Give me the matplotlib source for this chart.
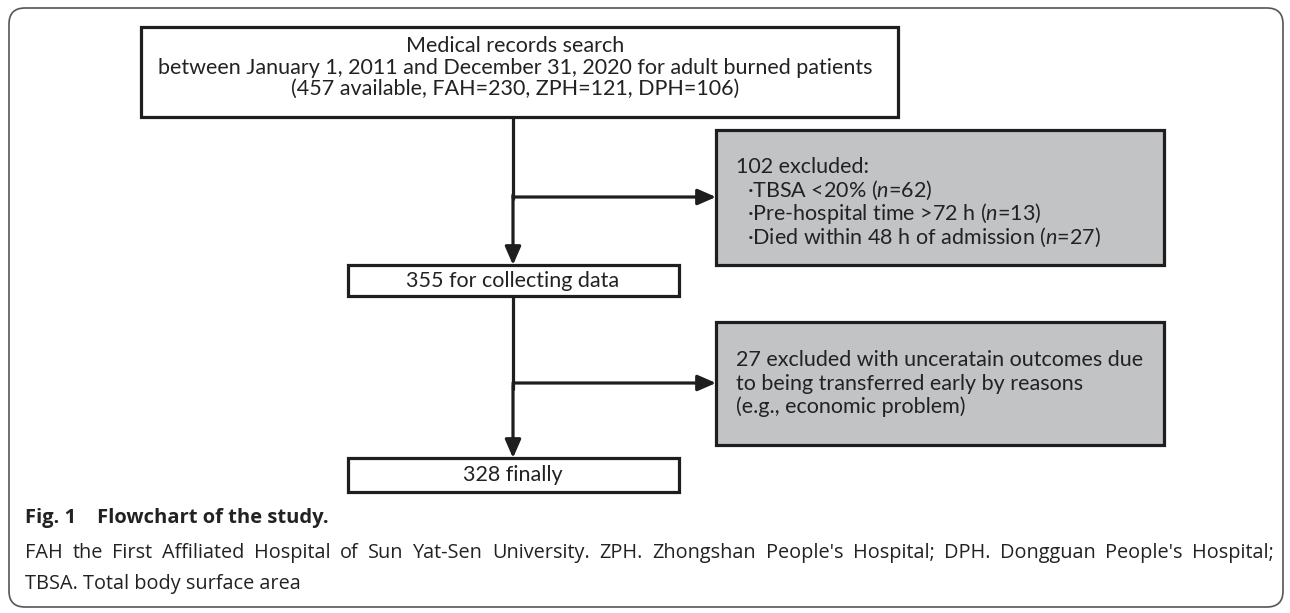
import matplotlib.pyplot as plt
from matplotlib.patches import FancyBboxPatch, Rectangle

plt.rcParams['font.family'] = ['Lato', 'DejaVu Sans']
plt.rcParams['mathtext.fontset'] = 'custom'
plt.rcParams['mathtext.rm'] = 'Lato'
plt.rcParams['mathtext.it'] = 'Lato:italic'

# flowchart text
top_lines = ["Medical records search",
             "between January 1, 2011 and December 31, 2020 for adult burned patients",
             "(457 available, FAH=230, ZPH=121, DPH=106)"]
excl1_lines = ["102 excluded:",
               "  \u00b7TBSA <20% ($\\it{n}$=62)",
               "  \u00b7Pre-hospital time >72 h ($\\it{n}$=13)",
               "  \u00b7Died within 48 h of admission ($\\it{n}$=27)"]
mid_label = "355 for collecting data"
excl2_lines = ["27 excluded with unceratain outcomes due",
               "to being transferred early by reasons",
               "(e.g., economic problem)"]
final_label = "328 finally"

caption_title = "Fig. 1    Flowchart of the study."
caption_lines = ["FAH the First Affiliated Hospital of Sun Yat-Sen University. ZPH. Zhongshan People's Hospital; "
                 "DPH. Dongguan People's Hospital;",
                 "TBSA. Total body surface area"]

W, H = 1290, 613
fig = plt.figure(figsize=(W / 100, H / 100), dpi=100)
ax = fig.add_axes([0, 0, 1, 1])
ax.set_xlim(0, W)
ax.set_ylim(H, 0)
ax.axis('off')

edge = '#1e1e1e'
gray = '#c2c3c5'
txt = '#222222'
lw = 2.3

# outer rounded frame
frame = FancyBboxPatch((9, 8), 1274, 599, boxstyle='round,pad=0,rounding_size=16',
                       fc='none', ec='#555555', lw=1.2)
ax.add_patch(frame)


def box(x0, y0, x1, y1, fill='white'):
    ax.add_patch(Rectangle((x0, y0), x1 - x0, y1 - y0, fc=fill, ec=edge, lw=lw, zorder=2))


def arrow(x0, y0, x1, y1):
    ax.annotate('', xy=(x1, y1), xytext=(x0, y0), zorder=3,
                arrowprops=dict(arrowstyle='-|>,head_length=0.55,head_width=0.24',
                                color=edge, lw=lw, mutation_scale=20,
                                shrinkA=0, shrinkB=0))


fs = 15.5
cx = 513

# boxes
box(141, 27, 898, 117)
box(716, 130, 1164, 265, gray)
box(348, 265, 679, 296)
box(716, 322, 1164, 445, gray)
box(348, 458, 679, 492)

# connectors
ax.plot([cx, cx], [117, 200], color=edge, lw=lw, solid_capstyle='butt')
arrow(cx, 195, cx, 265)
arrow(cx, 197, 716, 197)
ax.plot([cx, cx], [296, 390], color=edge, lw=lw, solid_capstyle='butt')
arrow(cx, 385, cx, 458)
arrow(cx, 383, 716, 383)

# text in boxes
for i, s in enumerate(top_lines):
    ax.text(515, 46 + i * 21.5, s, ha='center', va='center', fontsize=fs, color=txt)
for i, s in enumerate(excl1_lines):
    ax.text(736, 167 + i * 23.3, s, ha='left', va='center', fontsize=fs, color=txt)
ax.text(cx, 281, mid_label, ha='center', va='center', fontsize=fs, color=txt)
for i, s in enumerate(excl2_lines):
    ax.text(736, 360 + i * 23.5, s, ha='left', va='center', fontsize=fs, color=txt)
ax.text(cx, 475, final_label, ha='center', va='center', fontsize=fs, color=txt)

# caption
cap_font = ['Open Sans', 'DejaVu Sans']
ax.text(25, 518, caption_title, ha='left', va='center', fontsize=14.5,
        fontweight='bold', family=cap_font, color=txt)

# justified first caption line
renderer = fig.canvas.get_renderer()
words = caption_lines[0].split()
left, right = 25, 1274
items = []
total = 0
for w in words:
    t = ax.text(0, 553, w, ha='left', va='center', fontsize=14.3, family=cap_font, color=txt)
    wd = t.get_window_extent(renderer).width
    items.append((t, wd))
    total += wd
gap = (right - left - total) / (len(words) - 1)
x = left
for t, wd in items:
    t.set_x(x)
    x += wd + gap

ax.text(25, 584, caption_lines[1], ha='left', va='center', fontsize=14.3,
        family=cap_font, color=txt)

fig.savefig('out.png', dpi=100)
